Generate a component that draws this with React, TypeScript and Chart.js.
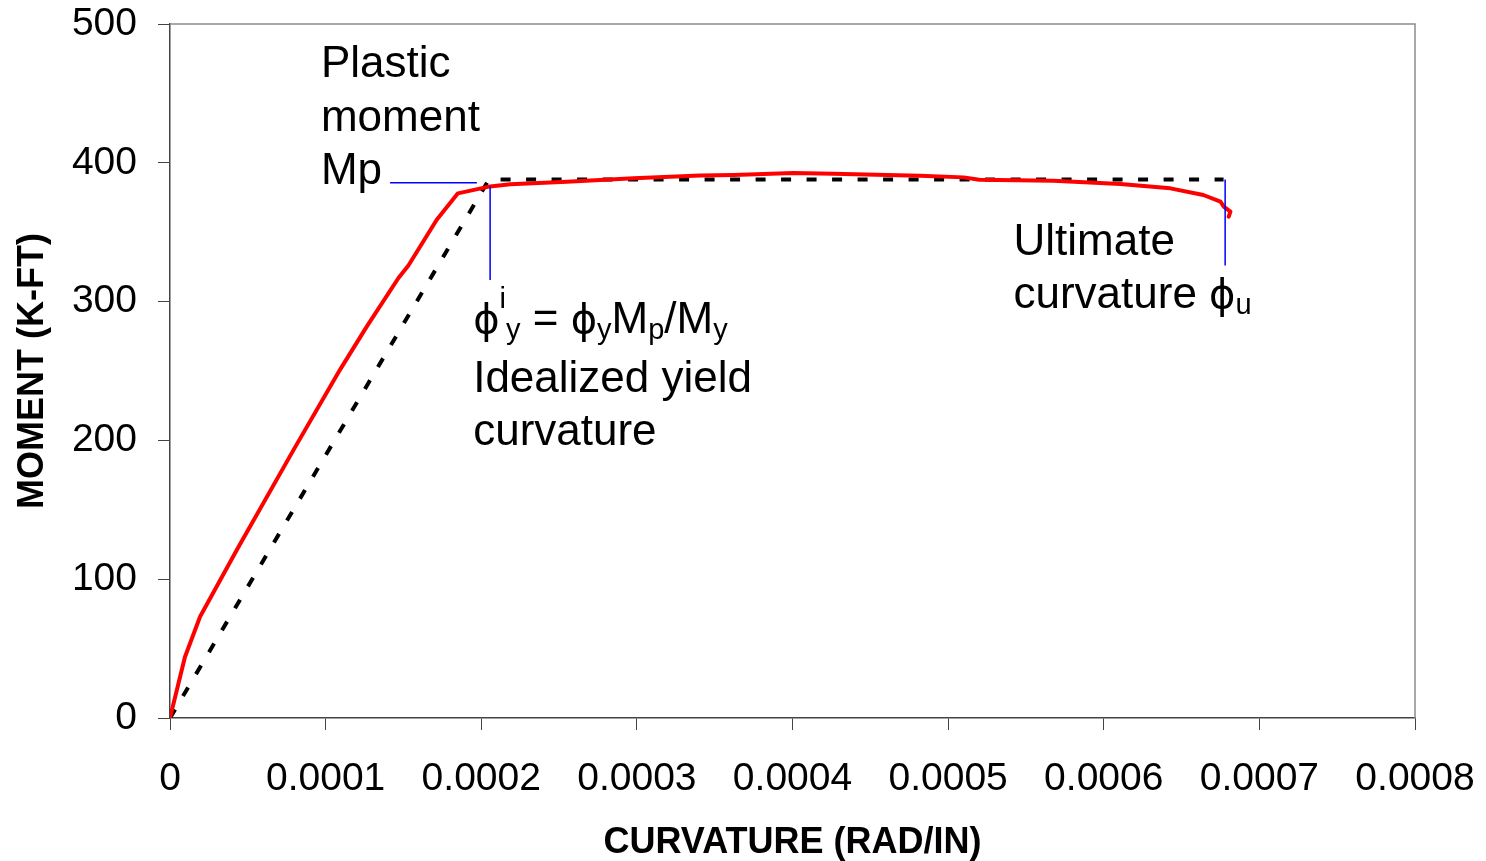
import React, { useEffect, useRef } from 'react';
import { Chart, registerables } from 'chart.js';

Chart.register(...registerables);

// Measured moment–curvature curve (red)
const curvatureRed = [0, 0.0000096, 0.0000193, 0.0000429, 0.0000793, 0.0001093, 0.0001264, 0.0001468, 0.0001532, 0.0001714, 0.000185, 0.0002057, 0.0002186, 0.000255, 0.0002979, 0.0003407, 0.0003621, 0.0004005, 0.0004262, 0.000482, 0.00051, 0.00052, 0.0005677, 0.0006107, 0.0006428, 0.000664, 0.000675, 0.0006771, 0.0006814, 0.0006803];
const momentRed = [0, 44, 73, 121, 193, 251, 282, 317, 326, 359, 378, 383, 384.5, 386.4, 388.8, 390.8, 391.3, 392.7, 392.2, 390.6, 389.5, 387.8, 387.1, 384.7, 381.6, 376.8, 372, 368.4, 364.8, 361.2];

// Idealized bilinear curve (black dotted)
const curvatureIdeal = [0, 0.000205, 0.000677];
const momentIdeal = [0, 388, 388];

// Blue leader lines
const mpLeaderX = [0.0001414, 0.0001972];
const mpLeaderY = [385.7, 385.7];
const yieldLeaderX = [0.0002057, 0.0002057];
const yieldLeaderY = [383, 315.5];
const ultLeaderX = [0.000678, 0.000678];
const ultLeaderY = [388, 326];

const xTickLabels = ['0', '0.0001', '0.0002', '0.0003', '0.0004', '0.0005', '0.0006', '0.0007', '0.0008'];
const yTickLabels = ['0', '100', '200', '300', '400', '500'];

const xTitle = 'CURVATURE (RAD/IN)';
const yTitle = 'MOMENT (K-FT)';

type Run = { t: string; sub?: boolean; sup?: boolean; phi?: boolean };

// Annotation anchors (data coordinates of text baseline-left)
const annotations: { x: number; y: number; runs: Run[] }[] = [
  { x: 0.000097, y: 461.8, runs: [{ t: 'Plastic' }] },
  { x: 0.000097, y: 423, runs: [{ t: 'moment' }] },
  { x: 0.000097, y: 384.6, runs: [{ t: 'Mp' }] },
  {
    x: 0.0001948,
    y: 277.4,
    runs: [
      { t: 'ϕ', phi: true }, { t: 'i', sup: true }, { t: 'y', sub: true }, { t: ' = ' }, { t: 'ϕ', phi: true }, { t: 'y', sub: true },
      { t: 'M' }, { t: 'p', sub: true }, { t: '/M' }, { t: 'y', sub: true },
    ],
  },
  { x: 0.0001948, y: 235.1, runs: [{ t: 'Idealized yield' }] },
  { x: 0.0001948, y: 196.7, runs: [{ t: 'curvature' }] },
  { x: 0.000542, y: 333.6, runs: [{ t: 'Ultimate' }] },
  { x: 0.000542, y: 295.2, runs: [{ t: 'curvature ' }, { t: 'ϕ', phi: true }, { t: 'u', sub: true }] },
];

const FONT = '"Liberation Sans", Arial, sans-serif';
const PHI_FONT = '"DejaVu Sans", sans-serif';

const toPts = (xs: number[], ys: number[]) => xs.map((x, i) => ({ x, y: ys[i] }));

const framePlugin = {
  id: 'frame',
  beforeDatasetsDraw(chart: any) {
    const { ctx, chartArea } = chart;
    ctx.save();
    ctx.strokeStyle = '#8c8c8c';
    ctx.lineWidth = 1.5;
    ctx.beginPath();
    ctx.moveTo(chartArea.left, chartArea.top);
    ctx.lineTo(chartArea.right, chartArea.top);
    ctx.lineTo(chartArea.right, chartArea.bottom);
    ctx.stroke();
    ctx.restore();
  },
};

const textPlugin = {
  id: 'annot',
  afterDatasetsDraw(chart: any) {
    const { ctx } = chart;
    const xs = chart.scales.x;
    const ys = chart.scales.y;
    ctx.save();
    ctx.fillStyle = '#000';
    ctx.textBaseline = 'alphabetic';
    ctx.textAlign = 'left';
    for (const a of annotations) {
      let px = xs.getPixelForValue(a.x);
      const py = ys.getPixelForValue(a.y);
      for (const r of a.runs) {
        const small = r.sub || r.sup;
        ctx.font = r.phi ? `40px ${PHI_FONT}` : `${small ? 29 : 44}px ${FONT}`;
        const dy = r.sub ? 6 : r.sup ? -25 : 0;
        ctx.fillText(r.t, px, py + dy);
        px += ctx.measureText(r.t).width;
      }
    }
    ctx.restore();
  },
};

export default function App() {
  const ref = useRef<HTMLCanvasElement | null>(null);

  useEffect(() => {
    if (!ref.current) return;
    const chart = new Chart(ref.current, {
      type: 'line',
      data: {
        datasets: [
          { data: toPts(mpLeaderX, mpLeaderY), borderColor: '#0000ff', borderWidth: 1.5, pointRadius: 0, order: 0 },
          { data: toPts(yieldLeaderX, yieldLeaderY), borderColor: '#0000ff', borderWidth: 1.5, pointRadius: 0, order: 0 },
          { data: toPts(ultLeaderX, ultLeaderY), borderColor: '#0000ff', borderWidth: 1.5, pointRadius: 0, order: 0 },
          { data: toPts(curvatureRed, momentRed), borderColor: '#ff0000', borderWidth: 4, pointRadius: 0, order: 1, borderJoinStyle: 'round', borderCapStyle: 'round' },
          { data: toPts(curvatureIdeal, momentIdeal), borderColor: '#000000', borderWidth: 4, borderDash: [10, 15.5], pointRadius: 0, order: 2 },
        ] as any,
      },
      options: {
        responsive: false,
        animation: false,
        events: [],
        layout: { padding: { top: 24, right: 71, left: 0, bottom: 0 } },
        plugins: { legend: { display: false }, tooltip: { enabled: false } },
        scales: {
          x: {
            type: 'linear',
            min: 0,
            max: 0.0008,
            afterFit: (s: any) => { s.height = 143; s.paddingRight = 0; s.paddingLeft = 0; },
            grid: { display: true, drawOnChartArea: false, drawTicks: true, tickLength: 12, color: '#444' },
            border: { display: true, color: '#444', width: 1.5 },
            ticks: {
              stepSize: 0.0001,
              autoSkip: false,
              maxRotation: 0,
              padding: 26,
              color: '#000',
              font: { family: FONT, size: 39 },
              callback: (_v: any, i: number) => xTickLabels[i],
            },
            title: { display: true, text: xTitle, color: '#000', font: { family: FONT, size: 36, weight: 'bold', lineHeight: 1 }, padding: { top: 0, bottom: 0 } },
          },
          y: {
            type: 'linear',
            min: 0,
            max: 500,
            afterFit: (s: any) => { s.width = 170; s.paddingTop = 0; s.paddingBottom = 0; },
            grid: { display: true, drawOnChartArea: false, drawTicks: true, tickLength: 12, color: '#444' },
            border: { display: true, color: '#444', width: 1.5 },
            ticks: {
              stepSize: 100,
              padding: 21,
              color: '#000',
              font: { family: FONT, size: 39 },
              callback: (_v: any, i: number) => yTickLabels[i],
            },
            title: { display: true, text: yTitle, color: '#000', font: { family: FONT, size: 36, weight: 'bold', lineHeight: 1 }, padding: { top: 15, bottom: 0 } },
          },
        },
      },
      plugins: [framePlugin, textPlugin],
    });
    return () => chart.destroy();
  }, []);

  return (
    <div style={{ position: 'absolute', left: 0, top: 0, width: 1486, height: 861, background: '#fff' }}>
      <canvas ref={ref} width={1486} height={861} style={{ display: 'block' }} />
    </div>
  );
}
